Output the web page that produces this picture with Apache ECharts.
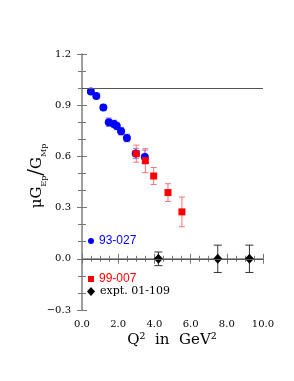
<!DOCTYPE html>
<html><head><meta charset="utf-8">
<script src="https://cdn.jsdelivr.net/npm/echarts@6/dist/echarts.min.js"></script>
<style>html,body{margin:0;padding:0;background:#fff}#c{width:294px;height:381px}</style>
</head><body><div id="c"></div>
<script>
var xTicks = [0, 2, 4, 6, 8, 10];
var yTicks = [-0.3, 0.0, 0.3, 0.6, 0.9, 1.2];
var refLines = [1.0, 0.0];

var blueQ2  = [0.49, 0.79, 1.18, 1.48, 1.77, 1.92, 2.16, 2.48, 2.97, 3.47];
var blueR   = [0.981, 0.954, 0.887, 0.800, 0.790, 0.778, 0.748, 0.708, 0.617, 0.597];
var blueErr = [0.012, 0.012, 0.012, 0.025, 0.022, 0.022, 0.022, 0.022, 0.030, 0.040];

var redQ2  = [3.00, 3.50, 3.96, 4.75, 5.52];
var redR   = [0.616, 0.575, 0.485, 0.388, 0.275];
var redErr = [0.050, 0.070, 0.050, 0.052, 0.087];

var blackQ2  = [4.22, 7.50, 9.25];
var blackR   = [0.0, 0.0, 0.0];
var blackErr = [0.040, 0.080, 0.080];

function pts(x, y) { return x.map(function (v, i) { return [v, y[i]]; }); }
function errs(x, y, e) { return x.map(function (v, i) { return [v, y[i] - e[i], y[i] + e[i]]; }); }

function errSeries(data, color, cap) {
  return {
    type: 'custom', data: data, z: 2,
    renderItem: function (params, api) {
      var x = api.value(0);
      var lo = api.coord([x, api.value(1)]);
      var hi = api.coord([x, api.value(2)]);
      var st = { stroke: color, lineWidth: 1 };
      return { type: 'group', children: [
        { type: 'line', shape: { x1: lo[0], y1: lo[1], x2: hi[0], y2: hi[1] }, style: st },
        { type: 'line', shape: { x1: lo[0] - cap, y1: lo[1], x2: lo[0] + cap, y2: lo[1] }, style: st },
        { type: 'line', shape: { x1: hi[0] - cap, y1: hi[1], x2: hi[0] + cap, y2: hi[1] }, style: st }
      ]};
    }
  };
}

var font = 'DejaVu Serif';
var sans = 'Liberation Sans';
var axisColor = '#999';
var chart = echarts.init(document.getElementById('c'));

function xAx(pos, labels) {
  return {
    type: 'value', min: 0, max: 10, interval: 2, position: pos,
    axisLine: { show: true, lineStyle: { color: axisColor, width: 1.5 } },
    axisTick: { show: true, inside: true, length: 5, lineStyle: { color: '#777' } },
    minorTick: { show: true, splitNumber: 4, length: 3, lineStyle: { color: '#777' } },
    splitLine: { show: false },
    axisLabel: { show: labels, margin: 9, fontFamily: font, fontSize: 10, color: '#000',
      formatter: function (v) { return v.toFixed(1); } }
  };
}
function yAx(pos, labels) {
  return {
    type: 'value', min: -0.3, max: 1.2, interval: 0.3, position: pos,
    axisLine: { show: true, lineStyle: { color: axisColor, width: 1.5 } },
    axisTick: { show: true, inside: true, length: 5, lineStyle: { color: '#777' } },
    minorTick: { show: true, splitNumber: 3, length: 4, lineStyle: { color: '#777' } },
    splitLine: { show: false },
    axisLabel: { show: labels, margin: 11, fontFamily: font, fontSize: 10, color: '#000',
      formatter: function (v) { return (Math.round(v * 10) / 10).toFixed(1).replace('-', '\u2212'); } }
  };
}

chart.setOption({
  animation: false,
  grid: { left: 82, right: 31, top: 54, bottom: 71 },
  xAxis: [xAx('bottom', true), xAx('top', false)],
  yAxis: [yAx('left', true), yAx('right', false)],
  legend: [
    { left: 88, top: 235, itemWidth: 6, itemHeight: 6, itemGap: 4, padding: 0,
      textStyle: { fontFamily: sans, fontSize: 12 },
      data: [{ name: '93-027', icon: 'circle', textStyle: { color: '#0000ff', fontFamily: sans, fontSize: 12 } }] },
    { left: 88, top: 273, itemWidth: 6, itemHeight: 6, padding: 0,
      textStyle: { fontFamily: sans, fontSize: 12 },
      data: [{ name: '99-007', icon: 'rect', textStyle: { color: '#ff0000', fontFamily: sans, fontSize: 12 } }] },
    { left: 87, top: 286, itemWidth: 8, itemHeight: 9, padding: 0,
      textStyle: { fontFamily: font, fontSize: 11 },
      data: [{ name: 'expt. 01-109', icon: 'diamond', textStyle: { color: '#000', fontFamily: font, fontSize: 11 } }] }
  ],
  series: [
    { type: 'line', data: [], markLine: { silent: true, symbol: 'none', label: { show: false },
        lineStyle: { color: '#555', width: 1, type: 'solid' },
        data: refLines.map(function (v) { return { yAxis: v }; }) } },
    errSeries(errs(blueQ2, blueR, blueErr), '#7f7fff', 3),
    errSeries(errs(redQ2, redR, redErr), '#ff7070', 3),
    errSeries(errs(blackQ2, blackR, blackErr), '#333', 4),
    { name: '93-027', type: 'scatter', symbol: 'circle', symbolSize: 8, z: 3,
      itemStyle: { color: '#0000ff', opacity: 1 }, data: pts(blueQ2, blueR) },
    { name: '99-007', type: 'scatter', symbol: 'rect', symbolSize: 7, z: 4,
      itemStyle: { color: '#ff0000', opacity: 1 }, data: pts(redQ2, redR) },
    { name: 'expt. 01-109', type: 'scatter', symbol: 'diamond', symbolSize: [9, 10], z: 4,
      itemStyle: { color: '#000', opacity: 1 }, data: pts(blackQ2, blackR) }
  ],
  graphic: [
    { type: 'text', x: 172, y: 340,
      style: { text: 'Q\u00b2  in  GeV\u00b2', fontFamily: font, fontSize: 15, fill: '#000',
        align: 'center', verticalAlign: 'middle' } },
    { type: 'text', x: 37, y: 176, rotation: Math.PI / 2,
      style: { text: '{m|\u03bcG}{s|Ep}{sl|/}{m|G}{s|Mp}', fontFamily: font,
        align: 'center', verticalAlign: 'middle', fill: '#000',
        rich: {
          m: { fontFamily: font, fontSize: 15, lineHeight: 22, verticalAlign: 'middle', fill: '#000' },
          s: { fontFamily: font, fontSize: 8, lineHeight: 22, verticalAlign: 'bottom', fill: '#000' },
          sl: { fontFamily: font, fontSize: 20, lineHeight: 22, verticalAlign: 'middle', fill: '#000' }
        } } }
  ]
});
</script></body></html>
